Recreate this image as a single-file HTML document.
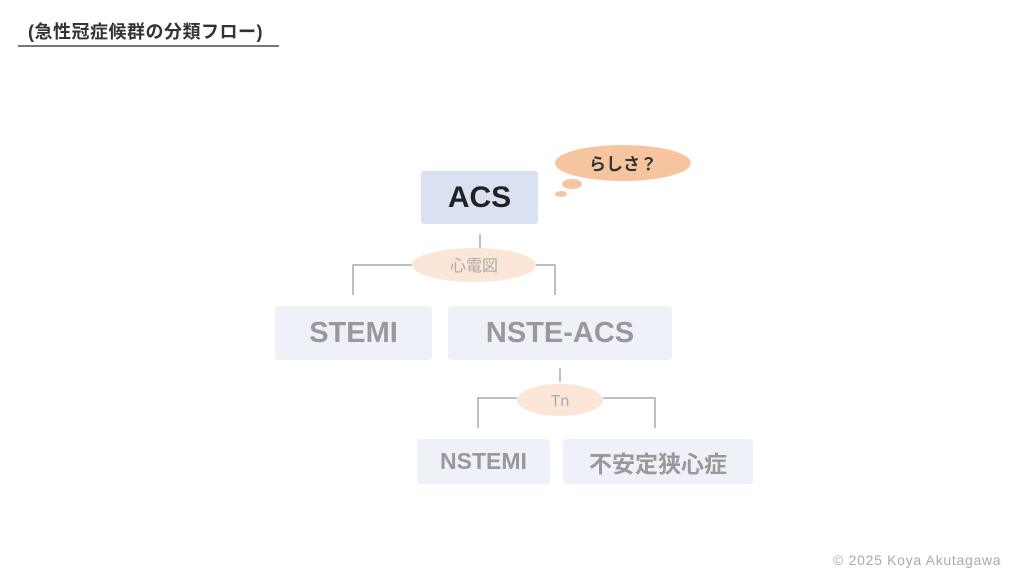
<!DOCTYPE html>
<html><head><meta charset="utf-8"><style>
body{margin:0;width:1024px;height:576px;background:#fff;overflow:hidden;position:relative;font-family:"Liberation Sans","Noto Sans CJK JP",sans-serif}
.a{position:absolute}
.box{position:absolute;display:flex;align-items:center;justify-content:center;font-weight:bold;border-radius:3px}
</style></head><body>
<div class="a" style="left:28px;top:18px;font-size:18px;font-weight:bold;color:#333;letter-spacing:0.5px">(急性冠症候群の分類フロー)</div>
<div class="a" style="left:18px;top:45px;width:261px;height:2px;background:#777"></div>
<svg class="a" style="left:0;top:0" width="1024" height="576">
<g stroke="#aaa" stroke-width="1.5" fill="none">
<path d="M480 234V250M412 265H353V295M536 265H555V295"/>
<path d="M560 368V382M517 398H478V428M603 398H655V428"/>
</g>
<ellipse cx="623" cy="163" rx="68" ry="18" fill="#f6c5a0"/>
<ellipse cx="572" cy="184" rx="10" ry="5" fill="#f6c5a0"/>
<ellipse cx="561" cy="194" rx="6" ry="3" fill="#f6c5a0"/>
<ellipse cx="474" cy="265" rx="62" ry="17" fill="#fbe6d7"/>
<ellipse cx="560" cy="400" rx="43" ry="16" fill="#fbe6d7"/>
<text x="623" y="170" font-size="17" font-weight="bold" fill="#333" text-anchor="middle" font-family="Liberation Sans,Noto Sans CJK JP,sans-serif">らしさ？</text>
<text x="474" y="271" font-size="16" fill="#aaa" text-anchor="middle" font-family="Liberation Sans,Noto Sans CJK JP,sans-serif">心電図</text>
<text x="560" y="406" font-size="16" fill="#aaa" text-anchor="middle" font-family="Liberation Sans,sans-serif">Tn</text>
</svg>
<div class="box" style="left:421px;top:171px;width:117px;height:53px;background:#d9e1f3;color:#222;font-size:30px">ACS</div>
<div class="box" style="left:275px;top:306px;width:157px;height:54px;background:#eef1f8;color:#999;font-size:29px">STEMI</div>
<div class="box" style="left:448px;top:306px;width:224px;height:54px;background:#eef1f8;color:#999;font-size:29px">NSTE-ACS</div>
<div class="box" style="left:417px;top:439px;width:133px;height:45px;background:#eef1f8;color:#999;font-size:23px">NSTEMI</div>
<div class="box" style="left:563px;top:439px;width:190px;height:45px;background:#eef1f8;color:#999;font-size:23px">不安定狭心症</div>
<div class="a" style="left:833px;top:552px;font-size:14px;color:#aaa;letter-spacing:0.7px">© 2025 Koya Akutagawa</div>
</body></html>
